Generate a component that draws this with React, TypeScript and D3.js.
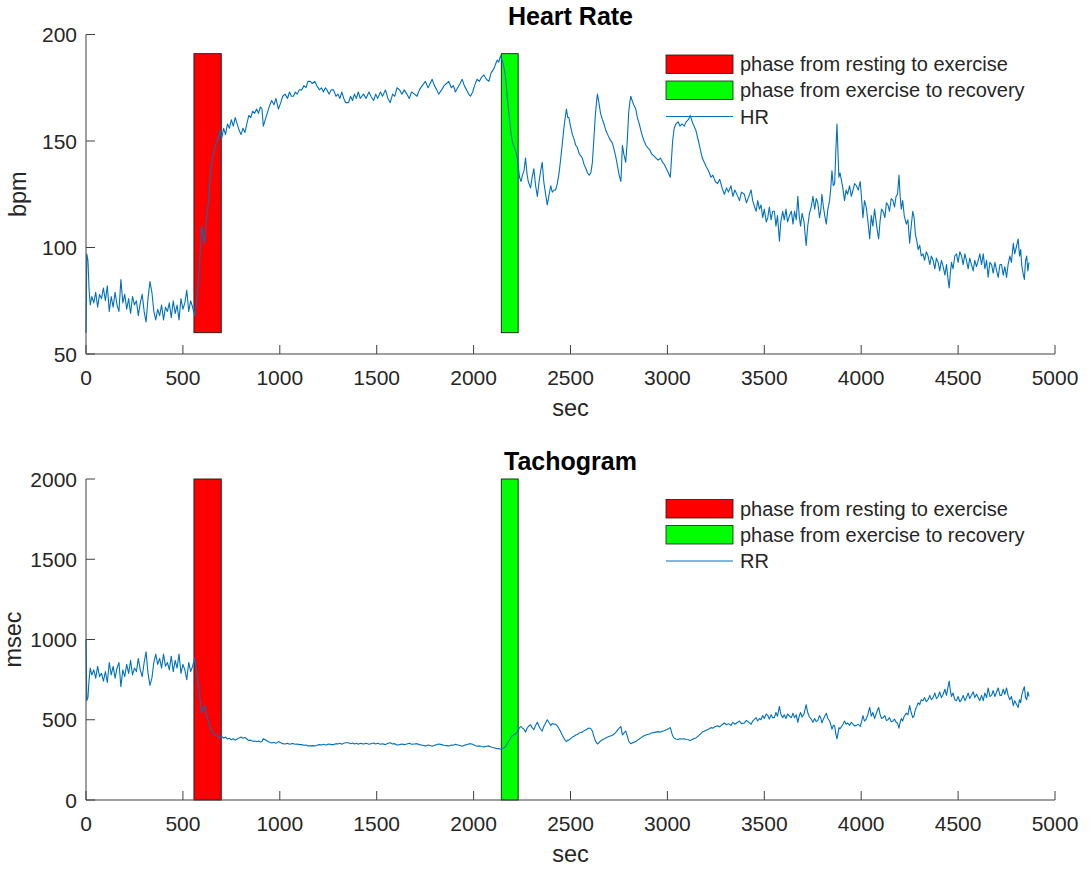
import React from "react";
import * as d3 from "d3";

// time stamps (sec) shared by both series
const sec = [
  0, 4, 10, 16, 22, 30, 40, 50, 60, 70, 80, 90, 100, 110, 120, 130, 140, 150, 160, 170, 180, 190, 200, 210, 220, 230, 240, 250, 260, 270, 280, 290, 300, 310, 320, 330, 340, 350, 360, 370, 380, 390, 400, 410, 420, 430, 440, 450, 460, 470, 480, 490, 500, 510, 520, 530, 540, 550, 560,
  570, 579, 588, 596, 604, 612, 620, 631, 638, 645, 655, 665, 675, 684, 691, 700,
  710, 720, 730, 740, 750, 760, 770, 780, 790, 800, 810, 820, 830, 840, 850, 860, 870, 880, 890, 900, 908, 915, 925, 935, 945, 958, 970, 980, 993, 1005, 1015, 1027, 1040, 1050, 1060, 1070, 1080, 1090, 1100, 1113, 1125, 1135, 1145, 1157, 1168, 1180, 1191, 1205, 1215, 1225, 1235, 1243, 1255, 1265, 1277, 1290, 1300, 1310, 1320, 1330, 1340, 1355, 1365, 1375, 1385, 1395, 1405, 1415, 1432, 1445, 1460, 1470, 1484, 1495, 1505, 1519, 1530, 1545, 1558, 1570, 1582, 1593, 1605, 1618, 1630, 1642, 1656, 1668, 1680, 1695, 1708, 1720, 1735, 1751, 1765, 1776, 1786, 1798, 1810, 1820, 1835, 1848, 1860, 1872, 1885, 1896, 1906, 1918, 1930, 1941, 1952, 1964, 1975, 1984, 1995, 2005, 2018, 2030, 2042, 2053, 2066, 2079, 2090, 2105, 2113, 2122, 2130, 2139,
  2150, 2158, 2165, 2174, 2182, 2190, 2199, 2210, 2218, 2225, 2232, 2237,
  2245, 2252, 2260, 2268, 2275, 2282, 2294, 2302, 2311, 2320, 2329, 2338, 2346, 2354, 2362, 2370, 2380, 2388, 2398, 2406, 2415, 2423, 2432, 2441, 2450, 2458, 2466, 2474, 2479, 2486, 2492, 2500, 2510, 2518, 2527, 2535, 2545, 2553, 2561, 2570, 2580, 2588, 2596, 2605, 2613, 2620, 2628, 2634, 2639, 2645, 2655, 2665, 2673, 2682, 2692, 2702, 2716, 2725, 2735, 2745, 2751, 2760, 2765, 2768, 2775, 2785, 2793, 2800, 2806, 2811, 2818, 2826, 2837, 2845, 2855, 2863, 2872, 2880, 2889, 2897, 2908, 2918, 2930, 2941, 2952, 2964, 2975, 2984, 2995, 3005, 3015, 3020, 3027, 3035, 3044, 3055, 3065, 3075, 3087, 3097, 3108, 3118, 3128, 3137, 3147, 3160, 3170, 3180, 3190, 3200, 3212, 3225, 3235, 3247, 3259, 3270, 3282, 3294,
  3305, 3315, 3328, 3338, 3348, 3363, 3372, 3382, 3397, 3408, 3420, 3432, 3440, 3450, 3458, 3466, 3475, 3483, 3492, 3500, 3510, 3518, 3526, 3535, 3543, 3552, 3560, 3568, 3578, 3585, 3595, 3603, 3612, 3620, 3630, 3640, 3648, 3656, 3665, 3673, 3680, 3687, 3695, 3705, 3716, 3724, 3733, 3742, 3751, 3760, 3768, 3776, 3785, 3792, 3797, 3805, 3812, 3820, 3828, 3837, 3843, 3849, 3856, 3863, 3869, 3875, 3880, 3885, 3891, 3897, 3905, 3914, 3922, 3930, 3940, 3949, 3958, 3966, 3975, 3985, 3995, 4002, 4009, 4017, 4026, 4035, 4044, 4052, 4060, 4069, 4077, 4083, 4090, 4097, 4105, 4113, 4122, 4130, 4138, 4146, 4155, 4164, 4172, 4180, 4187, 4191, 4195, 4201, 4207, 4214, 4222, 4233, 4241, 4250, 4258, 4266, 4273, 4280, 4287, 4294, 4302, 4310, 4319, 4327, 4336, 4345, 4354, 4362, 4371, 4380, 4388, 4397, 4405, 4414, 4423, 4432, 4440, 4447, 4454, 4460, 4466, 4474, 4483, 4492, 4500, 4509, 4518, 4526, 4535, 4543, 4552, 4560, 4569, 4578, 4586, 4595, 4604, 4612, 4621, 4630, 4638, 4647, 4655, 4664, 4673, 4681, 4690, 4699, 4707, 4716, 4724, 4733, 4741, 4750, 4758, 4767, 4775, 4785, 4792, 4800, 4810, 4817, 4823, 4828, 4835, 4842, 4848, 4854, 4860, 4866,
];

// heart rate (bpm)
const hrBpm = [
  60, 97, 94, 80, 73, 77, 74, 79, 72, 78, 76, 81, 75, 82, 70, 77, 72, 79, 73, 70, 85, 74, 78, 71, 76, 69, 77, 73, 75, 68, 74, 78, 70, 65, 76, 84, 79, 70, 66, 71, 68, 73, 66, 72, 70, 74, 67, 75, 69, 73, 66, 76, 71, 74, 80, 70, 75, 72, 68,
  74, 83, 95, 110, 106, 102, 112, 121, 130, 137, 143, 147, 150, 152, 155, 151,
  156, 153, 158, 156, 160, 157, 161, 158, 155, 153, 156, 154, 158, 162, 161, 164, 163, 165, 163, 166, 165, 157, 160, 163, 166, 169, 167, 170, 165, 168, 171, 172, 170, 173, 171, 171, 173, 172, 174, 174, 176, 175, 178, 178, 177, 178, 176, 174, 175, 173, 175, 174, 172, 174, 174, 171, 172, 170, 173, 170, 168, 168, 171, 169, 172, 170, 173, 170, 172, 170, 173, 171, 169, 172, 170, 173, 171, 174, 170, 168, 172, 171, 175, 174, 172, 174, 172, 170, 173, 172, 171, 174, 176, 178, 175, 177, 179, 176, 174, 172, 174, 176, 177, 178, 175, 176, 173, 175, 177, 179, 176, 174, 172, 171, 173, 176, 179, 178, 180, 181, 179, 178, 182, 184, 186, 188, 187, 190,
  187, 184, 180, 170, 163, 156, 150, 147, 145, 142, 137, 133,
  131, 134, 136, 142, 135, 131, 128, 133, 137, 129, 124, 131, 136, 140, 131, 126, 120, 124, 129, 126, 127, 127, 130, 135, 142, 149, 156, 162, 165, 161, 161, 157, 153, 151, 148, 147, 144, 143, 142, 139, 137, 135, 134, 135, 140, 150, 162, 168, 172, 169, 163, 160, 158, 155, 153, 151, 149, 146, 142, 137, 134, 131, 142, 148, 144, 140, 150, 163, 168, 171, 169, 167, 165, 161, 158, 155, 152, 150, 148, 147, 146, 144, 143, 142, 141, 142, 140, 139, 137, 135, 133, 140, 150, 156, 158, 159, 157, 158, 157, 159, 160, 162, 159, 157, 155, 150, 146, 142, 140, 138, 136, 133, 134, 131, 130, 132, 128, 125,
  128, 126, 129, 124, 127, 124, 122, 126, 125, 121, 124, 127, 122, 119, 117, 122, 118, 120, 114, 118, 112, 114, 119, 113, 117, 117, 110, 115, 103, 112, 117, 113, 118, 112, 115, 117, 111, 117, 113, 124, 115, 110, 116, 112, 101, 110, 116, 119, 124, 118, 123, 121, 114, 118, 125, 119, 115, 111, 118, 122, 128, 136, 129, 130, 145, 158, 145, 133, 135, 132, 128, 122, 127, 125, 129, 124, 127, 130, 129, 127, 131, 123, 114, 122, 119, 112, 104, 115, 110, 118, 112, 108, 104, 112, 118, 117, 114, 121, 120, 117, 123, 122, 119, 124, 125, 129, 134, 124, 118, 122, 115, 111, 113, 102, 110, 117, 114, 106, 103, 99, 101, 96, 97, 94, 98, 96, 92, 96, 94, 90, 95, 93, 89, 94, 91, 87, 92, 86, 81, 88, 93, 90, 96, 97, 93, 98, 96, 92, 97, 94, 90, 95, 92, 89, 94, 91, 94, 97, 92, 97, 90, 94, 86, 93, 92, 88, 93, 89, 86, 92, 92, 87, 91, 86, 92, 96, 93, 102, 97, 100, 104, 96, 99, 92, 88, 85, 94, 96, 89, 93,
];

// RR interval (msec)
const rrMsec = [
  1000, 619, 638, 750, 822, 779, 811, 759, 833, 769, 789, 741, 800, 732, 857, 779, 833, 759, 822, 857, 706, 811, 769, 845, 789, 870, 779, 822, 800, 882, 811, 769, 857, 923, 789, 714, 759, 857, 909, 845, 882, 822, 909, 833, 857, 811, 896, 800, 870, 822, 909, 789, 845, 811, 750, 857, 800, 833, 882,
  811, 723, 632, 545, 566, 588, 536, 496, 462, 438, 420, 408, 400, 395, 387, 397,
  385, 392, 380, 385, 375, 382, 373, 380, 387, 392, 385, 390, 380, 370, 373, 366, 368, 364, 368, 361, 364, 382, 375, 368, 361, 355, 359, 353, 364, 357, 351, 349, 353, 347, 351, 351, 347, 349, 345, 345, 341, 343, 337, 337, 339, 337, 341, 345, 343, 347, 343, 345, 349, 345, 345, 351, 349, 353, 347, 353, 357, 357, 351, 355, 349, 353, 347, 353, 349, 353, 347, 351, 355, 349, 353, 347, 351, 345, 353, 357, 349, 351, 343, 345, 349, 345, 349, 353, 347, 349, 351, 345, 341, 337, 343, 339, 335, 341, 345, 349, 345, 341, 339, 337, 343, 341, 347, 343, 339, 335, 341, 345, 349, 351, 347, 341, 335, 337, 333, 331, 335, 337, 330, 326, 323, 319, 321, 316,
  321, 326, 333, 353, 368, 385, 400, 408, 414, 423, 438, 451,
  458, 448, 441, 423, 444, 458, 469, 451, 438, 465, 484, 458, 441, 429, 458, 476, 500, 484, 465, 476, 472, 472, 462, 444, 423, 403, 385, 370, 364, 373, 373, 382, 392, 397, 405, 408, 417, 420, 423, 432, 438, 444, 448, 444, 429, 400, 370, 357, 349, 355, 368, 375, 380, 387, 392, 397, 403, 411, 423, 438, 448, 458, 423, 405, 417, 429, 400, 368, 357, 351, 355, 359, 364, 373, 380, 387, 395, 400, 405, 408, 411, 417, 420, 423, 426, 423, 429, 432, 438, 444, 451, 429, 400, 385, 380, 377, 382, 380, 382, 377, 375, 370, 377, 382, 387, 400, 411, 423, 429, 435, 441, 451, 448, 458, 462, 455, 469, 480,
  469, 476, 465, 484, 472, 484, 492, 476, 480, 496, 484, 472, 492, 504, 513, 492, 508, 500, 526, 508, 536, 526, 504, 531, 513, 513, 545, 522, 583, 536, 513, 531, 508, 536, 522, 513, 541, 513, 531, 484, 522, 545, 517, 536, 594, 545, 517, 504, 484, 508, 488, 496, 526, 508, 480, 504, 522, 541, 508, 492, 469, 441, 465, 462, 414, 380, 414, 451, 444, 455, 469, 492, 472, 480, 465, 484, 472, 462, 465, 472, 458, 488, 526, 492, 504, 536, 577, 522, 545, 508, 536, 556, 577, 536, 508, 513, 526, 496, 500, 513, 488, 492, 504, 484, 480, 465, 448, 484, 508, 492, 522, 541, 531, 588, 545, 513, 526, 566, 583, 606, 594, 625, 619, 638, 612, 625, 652, 625, 638, 667, 632, 645, 674, 638, 659, 690, 652, 698, 741, 682, 645, 667, 625, 619, 645, 612, 625, 652, 619, 638, 667, 632, 652, 674, 638, 659, 638, 619, 652, 619, 667, 638, 698, 645, 652, 682, 645, 674, 698, 652, 652, 690, 659, 698, 652, 625, 645, 588, 619, 600, 577, 625, 606, 652, 682, 706, 638, 625, 674, 645,
];

const xTicks = [0, 500, 1000, 1500, 2000, 2500, 3000, 3500, 4000, 4500, 5000];
const hrTicks = [50, 100, 150, 200];
const rrTicks = [0, 500, 1000, 1500, 2000];

// shaded phases (sec) and their vertical extent per panel
const restToExercise = [557, 698];
const exerciseToRecovery = [2143, 2230];
const hrBand = [60, 191];
const rrBand = [0, 2000];

const legendLabels = ["phase from resting to exercise", "phase from exercise to recovery"];

const FONT = "'Liberation Sans', Arial, Helvetica, sans-serif";
const TEXT = "#262626";
const AXIS = "#404040";
const LINE = "#0072BD";

type PanelProps = {
  top: number;
  bottom: number;
  yDomain: number[];
  yTicks: number[];
  values: number[];
  band: number[];
  title: string;
  yLabel: string;
  yLabelX: number;
  lineLabel: string;
};

const Panel = ({ top, bottom, yDomain, yTicks, values, band, title, yLabel, yLabelX, lineLabel }: PanelProps) => {
  const x = d3.scaleLinear().domain([0, 5000]).range([86, 1055]);
  const y = d3.scaleLinear().domain(yDomain).range([bottom, top]);
  const line = d3
    .line<number>()
    .x((_, i) => x(sec[i]))
    .y((d) => y(d));

  const phases = [
    { range: restToExercise, fill: "#ff0000" },
    { range: exerciseToRecovery, fill: "#00ff00" },
  ];

  const left = x.range()[0];
  const right = x.range()[1];
  const lx = 666;
  const lw = 67;

  return (
    <g fontFamily={FONT}>
      {phases.map((p, i) => (
        <rect
          key={i}
          x={x(p.range[0])}
          y={y(band[1])}
          width={x(p.range[1]) - x(p.range[0])}
          height={y(band[0]) - y(band[1])}
          fill={p.fill}
          stroke="#1a1a1a"
          strokeWidth={0.9}
        />
      ))}
      <path d={line(values) || ""} fill="none" stroke={LINE} strokeWidth={1.1} strokeLinejoin="round" />

      {/* axes */}
      <line x1={left} x2={right} y1={bottom} y2={bottom} stroke={AXIS} strokeWidth={1} />
      <line x1={left} x2={left} y1={top} y2={bottom} stroke={AXIS} strokeWidth={1} />
      {xTicks.map((t) => (
        <g key={t}>
          <line x1={x(t)} x2={x(t)} y1={bottom} y2={bottom - 9} stroke={AXIS} strokeWidth={1} />
          <text x={x(t)} y={bottom + 31} textAnchor="middle" fontSize={21} fill={TEXT}>
            {t}
          </text>
        </g>
      ))}
      {yTicks.map((t) => (
        <g key={t}>
          <line x1={left} x2={left + 9} y1={y(t)} y2={y(t)} stroke={AXIS} strokeWidth={1} />
          <text x={left - 9} y={y(t) + 7.5} textAnchor="end" fontSize={21} fill={TEXT}>
            {t}
          </text>
        </g>
      ))}

      <text x={(left + right) / 2} y={top - 9.5} textAnchor="middle" fontSize={25} fontWeight="bold" fill="#000">
        {title}
      </text>
      <text x={(left + right) / 2} y={bottom + 62} textAnchor="middle" fontSize={23.5} fill={TEXT}>
        sec
      </text>
      <text
        transform={`translate(${yLabelX},${(top + bottom) / 2}) rotate(-90)`}
        textAnchor="middle"
        fontSize={23.5}
        fill={TEXT}
      >
        {yLabel}
      </text>

      {/* legend */}
      {phases.map((p, i) => (
        <g key={i}>
          <rect x={lx} y={top + 20.5 + i * 26} width={lw} height={18.5} fill={p.fill} stroke="#1a1a1a" strokeWidth={0.8} />
          <text x={lx + 74} y={top + 36.5 + i * 26} fontSize={20} fill={TEXT}>
            {legendLabels[i]}
          </text>
        </g>
      ))}
      <line x1={lx} x2={lx + lw} y1={top + 82} y2={top + 82} stroke={LINE} strokeWidth={1} />
      <text x={lx + 74} y={top + 89} fontSize={20} fill={TEXT}>
        {lineLabel}
      </text>
    </g>
  );
};

export default function App() {
  return (
    <svg
      width={1090}
      height={869}
      style={{ position: "absolute", left: 0, top: 0, background: "#fff" }}
    >
      <Panel
        top={34.5}
        bottom={354}
        yDomain={[50, 200]}
        yTicks={hrTicks}
        values={hrBpm}
        band={hrBand}
        title="Heart Rate"
        yLabel="bpm"
        yLabelX={26}
        lineLabel="HR"
      />
      <Panel
        top={479}
        bottom={800}
        yDomain={[0, 2000]}
        yTicks={rrTicks}
        values={rrMsec}
        band={rrBand}
        title="Tachogram"
        yLabel="msec"
        yLabelX={21}
        lineLabel="RR"
      />
    </svg>
  );
}
